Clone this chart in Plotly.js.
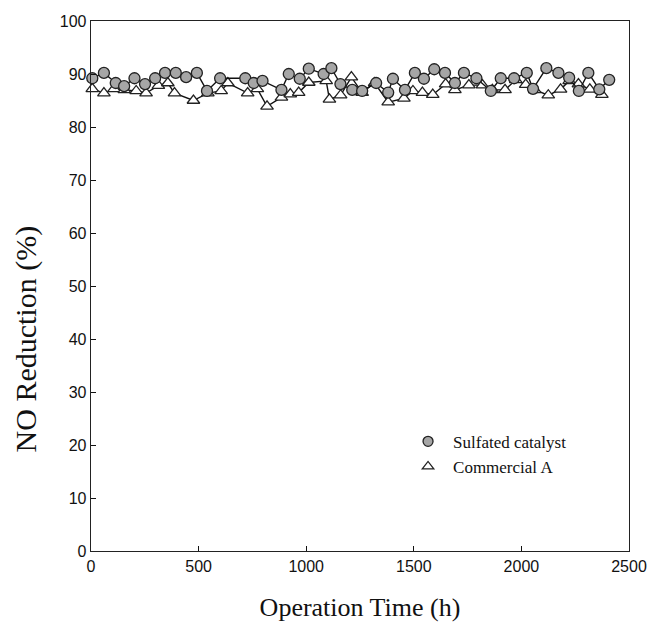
<!DOCTYPE html>
<html>
<head>
<meta charset="utf-8">
<script src="https://cdn.plot.ly/plotly-3.0.1.min.js"></script>
<style>html,body{margin:0;padding:0;background:#fff;}#chart{width:650px;height:625px;}</style>
</head>
<body>
<div id="chart"></div>
<script>
const sulfatedTime = [6,60,115,154,202,251,298,344,394,442,492,539,600,717,756,797,885,919,970,1012,1081,1117,1159,1214,1260,1325,1381,1403,1459,1505,1547,1595,1645,1691,1733,1791,1858,1904,1966,2025,2054,2116,2172,2222,2267,2311,2362,2408];
const sulfatedNO = [89.2,90.2,88.3,87.7,89.2,88.1,89.2,90.2,90.2,89.4,90.2,86.8,89.2,89.2,88.3,88.7,87.0,90.0,89.1,91.0,90.0,91.1,88.1,87.0,86.8,88.3,86.5,89.1,87.0,90.2,89.1,90.9,90.2,88.3,90.2,89.2,86.8,89.2,89.2,90.2,87.2,91.1,90.2,89.3,86.8,90.2,87.1,88.9];
const commercialTime = [6,60,107,155,210,256,313,357,388,476,543,605,636,728,773,818,885,926,965,1012,1093,1108,1160,1210,1260,1318,1381,1454,1496,1540,1588,1648,1691,1756,1819,1865,1924,1974,2020,2062,2125,2182,2222,2265,2318,2374];
const commercialNO = [87.2,86.4,87.2,87.0,86.8,86.4,87.8,88.3,86.4,85.0,86.4,86.8,88.3,86.4,87.2,83.9,85.6,86.2,86.5,88.4,88.7,85.2,86.0,89.4,86.5,88.3,84.7,85.4,86.8,86.5,86.1,88.1,87.0,87.9,87.9,87.0,87.0,88.9,88.0,87.0,86.0,87.1,88.7,88.1,87.1,86.1];
const seriesNames = ["Sulfated catalyst", "Commercial A"];
const xTicks = [0,500,1000,1500,2000,2500];
const yTicks = [0,10,20,30,40,50,60,70,80,90,100];
const xTitle = "Operation Time (h)";
const yTitle = "NO Reduction (%)";

const lineStyle = {color:'#111', width:1.4};
const circleMarker = {symbol:'circle', size:11, color:'#a6a6a6', line:{color:'#222', width:1.3}};
const triMarker = {symbol:'triangle-up', size:11, color:'#ffffff', line:{color:'#222', width:1.3}};

const traces = [
  {x:commercialTime, y:commercialNO, mode:'lines+markers', line:lineStyle, marker:triMarker, showlegend:false, cliponaxis:false},
  {x:sulfatedTime, y:sulfatedNO, mode:'lines+markers', line:lineStyle, marker:circleMarker, showlegend:false, cliponaxis:false},
  {x:[null], y:[null], mode:'markers', name:seriesNames[0], marker:Object.assign({}, circleMarker, {size:10})},
  {x:[null], y:[null], mode:'markers', name:seriesNames[1], marker:Object.assign({}, triMarker, {size:10})}
];

const axisFont = {family:'"Liberation Sans", Arial, sans-serif', size:16, color:'#111'};
const serif = '"Liberation Serif", "Times New Roman", serif';

const layout = {
  width:650, height:625,
  margin:{l:91, r:21, t:21, b:74},
  paper_bgcolor:'#fff', plot_bgcolor:'#fff',
  showlegend:true,
  legend:{x:0.58, y:0.24, xanchor:'left', yanchor:'top', bgcolor:'rgba(0,0,0,0)',
          font:{family:serif, size:17, color:'#111'},
          traceorder:'normal', itemwidth:40, tracegroupgap:0},
  xaxis:{range:[0,2500], tickvals:xTicks, ticktext:xTicks.map(String), ticks:'inside', ticklen:5, tickwidth:1,
         tickcolor:'#111', showline:true, linecolor:'#222', linewidth:1.3, mirror:true, showgrid:false, zeroline:false,
         tickfont:axisFont, title:{text:xTitle, font:{family:serif, size:26, color:'#111'}, standoff:24}},
  yaxis:{range:[0,100], tickvals:yTicks, ticktext:yTicks.map(String), ticks:'inside', ticklen:5, tickwidth:1,
         tickcolor:'#111', showline:true, linecolor:'#222', linewidth:1.3, mirror:true, showgrid:false, zeroline:false,
         tickfont:axisFont},
  annotations:[{text:yTitle, textangle:-90, xref:'paper', yref:'paper', x:-0.12, y:0.40,
                xanchor:'center', yanchor:'middle', showarrow:false,
                font:{family:serif, size:30, color:'#111'}}]
};

Plotly.newPlot('chart', traces, layout, {displayModeBar:false, staticPlot:true});
</script>
</body>
</html>
